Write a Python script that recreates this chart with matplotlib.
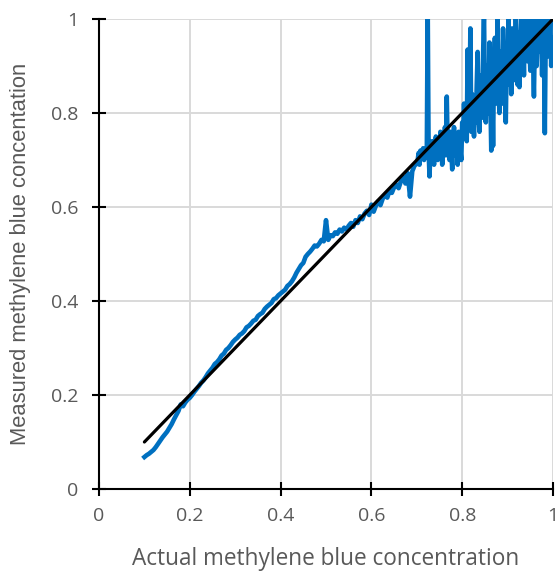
import numpy as np
import matplotlib
matplotlib.use("Agg")
import matplotlib.pyplot as plt

# Measured series, smooth part (x from 0.10 to 0.70, step 0.005)
measured_low = [
    0.068, 0.072, 0.075, 0.079, 0.083, 0.089, 0.096, 0.103, 0.110, 0.116,
    0.122, 0.130, 0.138, 0.148, 0.157, 0.166, 0.180, 0.176, 0.184, 0.190,
    0.194, 0.200, 0.207, 0.213, 0.219, 0.226, 0.231, 0.238, 0.246, 0.252,
    0.258, 0.266, 0.270, 0.276, 0.284, 0.288, 0.296, 0.300, 0.306, 0.313,
    0.318, 0.322, 0.328, 0.331, 0.336, 0.344, 0.347, 0.352, 0.358, 0.360,
    0.368, 0.372, 0.375, 0.383, 0.388, 0.392, 0.396, 0.404, 0.406, 0.412,
    0.416, 0.420, 0.424, 0.432, 0.436, 0.442, 0.450, 0.460, 0.468, 0.476,
    0.481, 0.494, 0.500, 0.505, 0.511, 0.518, 0.516, 0.522, 0.530, 0.527,
    0.572, 0.530, 0.540, 0.538, 0.546, 0.543, 0.552, 0.548, 0.556, 0.552,
    0.560, 0.566, 0.558, 0.572, 0.566, 0.580, 0.574, 0.586, 0.592, 0.583,
    0.605, 0.590, 0.603, 0.612, 0.604, 0.618, 0.626, 0.620, 0.634, 0.630,
    0.642, 0.648, 0.640, 0.655, 0.664, 0.650, 0.672, 0.622, 0.676, 0.688,
    0.692,
]
# Measured series, noisy part (x from 0.702 to 1.000, step 0.002)
measured_high = [
    0.70, 0.715, 0.69, 0.72, 0.705, 0.71, 0.725, 0.70, 0.715, 0.72, 0.71,
    1.03, 0.72, 0.665,
    0.72, 0.70, 0.74, 0.71, 0.69, 0.73, 0.75, 0.72, 0.70, 0.745, 0.71, 0.76,
    0.73, 0.69, 0.74, 0.72, 0.77, 0.71,
    0.835,
    0.73, 0.75, 0.70, 0.76, 0.72, 0.68, 0.74, 0.77, 0.71, 0.75, 0.73, 0.69,
    0.76, 0.74, 0.72, 0.70,
    0.78, 0.75, 0.82, 0.76, 0.80, 0.74,
    0.935, 0.78, 0.80, 0.98, 0.76, 0.84, 0.79, 0.75, 0.82, 0.78,
    0.86, 0.93, 0.80, 0.76, 0.84, 0.88, 0.79, 0.92, 1.02, 0.82,
    0.78, 0.90, 0.85, 0.80, 0.95, 0.84, 0.72, 0.86, 0.73, 0.90,
    0.96, 0.82, 0.88, 1.00, 0.85, 0.80, 0.93, 0.87, 0.82, 0.98,
    0.90, 0.84, 0.78, 0.92, 0.86, 1.01, 0.88, 0.94, 0.84, 0.98,
    0.90, 0.95, 0.87, 1.02, 0.92, 0.86, 0.97, 0.855, 0.94, 1.00,
    0.90, 0.96, 0.88, 1.02, 0.93, 0.98, 0.91, 1.00, 0.95, 0.89,
    0.97, 1.02, 0.92, 0.835, 0.96, 1.00, 0.90, 0.98, 0.93, 1.03,
    0.95, 0.99, 0.88, 1.01, 0.94, 0.757, 0.97, 1.00, 0.92, 0.98,
    0.95, 1.01, 0.90, 0.96, 0.92,
]
actual_low = np.linspace(0.10, 0.70, len(measured_low))
actual_high = np.linspace(0.702, 1.00, len(measured_high))
actual = np.concatenate([actual_low, actual_high])
measured = np.array(measured_low + measured_high)

ideal_x = [0.1, 1.0]
ideal_y = [0.1, 1.0]

ticks = [0, 0.2, 0.4, 0.6, 0.8, 1]
tick_labels = ["0", "0.2", "0.4", "0.6", "0.8", "1"]

plt.rcParams['font.family'] = ['Open Sans', 'DejaVu Sans']

fig = plt.figure(figsize=(5.59, 5.71), dpi=100)
ax = fig.add_axes([99/559, 82/571, 454/559, 470/571])

ax.plot(actual, measured, color="#0070C0", lw=3.3, zorder=3, solid_joinstyle="round")
ax.plot(ideal_x, ideal_y, color="black", lw=2.3, zorder=4, solid_capstyle="round")

ax.set_xlim(0, 1)
ax.set_ylim(0, 1)
ax.set_xticks(ticks)
ax.set_yticks(ticks)
ax.set_xticklabels(tick_labels)
ax.set_yticklabels(tick_labels)

ax.grid(True, color="#d9d9d9", lw=1.4, zorder=0)
ax.set_axisbelow(True)

for s in ["top", "right"]:
    ax.spines[s].set_visible(False)
for s in ["left", "bottom"]:
    ax.spines[s].set_linewidth(1.5)
    ax.spines[s].set_color("black")
    ax.spines[s].set_zorder(5)

ax.tick_params(axis="both", direction="inout", length=10, width=1.5,
               color="black", labelsize=14, labelcolor="#595959")
ax.tick_params(axis="x", pad=8)
ax.tick_params(axis="y", pad=10)

ax.set_xlabel("Actual methylene blue concentration", fontsize=16.3,
              color="#595959", labelpad=16)
ax.set_ylabel("Measured methylene blue concentation", fontsize=15.8,
              color="#595959", labelpad=14,
              family=['Liberation Sans', 'DejaVu Sans'])

fig.savefig("out.png", dpi=100)
